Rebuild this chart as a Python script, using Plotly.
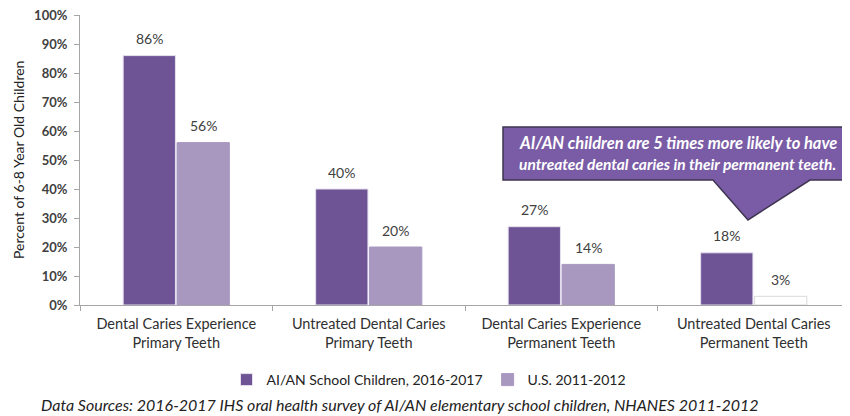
import plotly.graph_objects as go

categories = ["Dental Caries Experience<br>Primary Teeth",
              "Untreated Dental Caries<br>Primary Teeth",
              "Dental Caries Experience<br>Permanent Teeth",
              "Untreated Dental Caries<br>Permanent Teeth"]
aian_values = [86, 40, 27, 18]
us_values = [56, 20, 14, 3]
series_names = ["AI/AN School Children, 2016-2017", "U.S. 2011-2012"]
y_ticks = [0, 10, 20, 30, 40, 50, 60, 70, 80, 90, 100]
y_tick_labels = [f"{v}%" for v in y_ticks]
callout_lines = ["AI/AN children are 5 times more likely to have",
                 "untreated dental caries in their permanent teeth."]

DARK = "#6E5494"
LIGHT = "#A898C0"
FONT = "Lato"
TXT = "#404040"

us_colors = [LIGHT, LIGHT, LIGHT, "#FFFFFF"]
us_lines = [LIGHT, LIGHT, LIGHT, "#D9D9D9"]

fig = go.Figure()
fig.add_trace(go.Bar(
    x=categories, y=aian_values, name=series_names[0],
    marker=dict(color=DARK, line=dict(color="#E6E0EE", width=1)),
))
fig.add_trace(go.Bar(
    x=categories, y=us_values, name=series_names[1],
    marker=dict(color=us_colors, line=dict(color=us_lines, width=1)),
))

# value labels above bars (placed via the category / value axes)
for vals, shift in ((aian_values, -27), (us_values, 27)):
    for cat, v in zip(categories, vals):
        fig.add_annotation(x=cat, y=v, xref="x", yref="y", text=f"{v}%", showarrow=False,
                           xshift=shift, yshift=17, yanchor="middle",
                           font=dict(family=FONT, size=14, color=TXT))

# page has an 8px body margin; positions below are in window pixels
def px2x(px):
    return (px - 80) / 770.0

def px2y(py):
    return (305 - py) / 2.9

path = "M {a},{b} L {c},{b} L {c},{d} L {e},{d} L {f},{g} L {h},{d} L {a},{d} Z".format(
    a=px2x(503), b=px2y(127), c=px2x(862), d=px2y(180),
    e=px2x(810), f=px2x(748), g=px2y(220), h=px2x(713))

fig.add_shape(type="path", path=path, xref="paper", yref="y",
              fillcolor="#7A5CA6", line=dict(color="#3F3550", width=1.5), layer="above")

for line, py, size in ((callout_lines[0], 143, 16.5), (callout_lines[1], 164, 15.5)):
    fig.add_annotation(
        xref="paper", yref="y", x=px2x(517), y=px2y(py),
        text=line, showarrow=False, align="left", xanchor="left", yanchor="middle",
        font=dict(family=FONT, size=size, color="white", weight="bold", style="italic"),
    )

fig.add_annotation(
    xref="paper", yref="paper", x=px2x(18), y=0.5, textangle=-90,
    xanchor="center", yanchor="middle", showarrow=False,
    text="Percent of 6-8 Year Old Children",
    font=dict(family=FONT, size=14, color="#222222"),
)

fig.add_annotation(
    xref="paper", yref="paper", x=px2x(400), y=-(404 - 305) / 290.0,
    xanchor="center", yanchor="middle",
    text="Data Sources: 2016-2017 IHS oral health survey of AI/AN elementary school children, NHANES 2011-2012",
    showarrow=False, font=dict(family=FONT, size=16, color="#222222", style="italic"),
)

fig.update_layout(
    width=842, height=408,
    margin=dict(l=72, r=0, t=7, b=111, autoexpand=False),
    plot_bgcolor="white", paper_bgcolor="white",
    barmode="group", bargap=0.44, bargroupgap=0.03,
    showlegend=True,
    legend=dict(orientation="h", x=px2x(429), xanchor="center", y=-(380 - 305) / 290.0,
                yanchor="middle", font=dict(family=FONT, size=14, color="#222222"),
                itemwidth=30, traceorder="normal"),
    font=dict(family=FONT, color=TXT),
)
fig.update_xaxes(showline=True, linecolor="#A6A6A6", ticks="outside", tickson="boundaries",
                 tickcolor="#A6A6A6", ticklen=5, ticklabelstandoff=6,
                 tickfont=dict(family=FONT, size=14.5, color="#303030"),
                 showgrid=False)
fig.update_yaxes(range=[0, 100], tickvals=y_ticks, ticktext=y_tick_labels,
                 showline=True, linecolor="#A6A6A6", ticks="outside", tickcolor="#A6A6A6", ticklen=5,
                 ticklabelstandoff=4, ticklabeloverflow="allow",
                 tickfont=dict(family=FONT, size=13, color=TXT, weight="bold"), showgrid=False)

fig.write_html("out.html")
